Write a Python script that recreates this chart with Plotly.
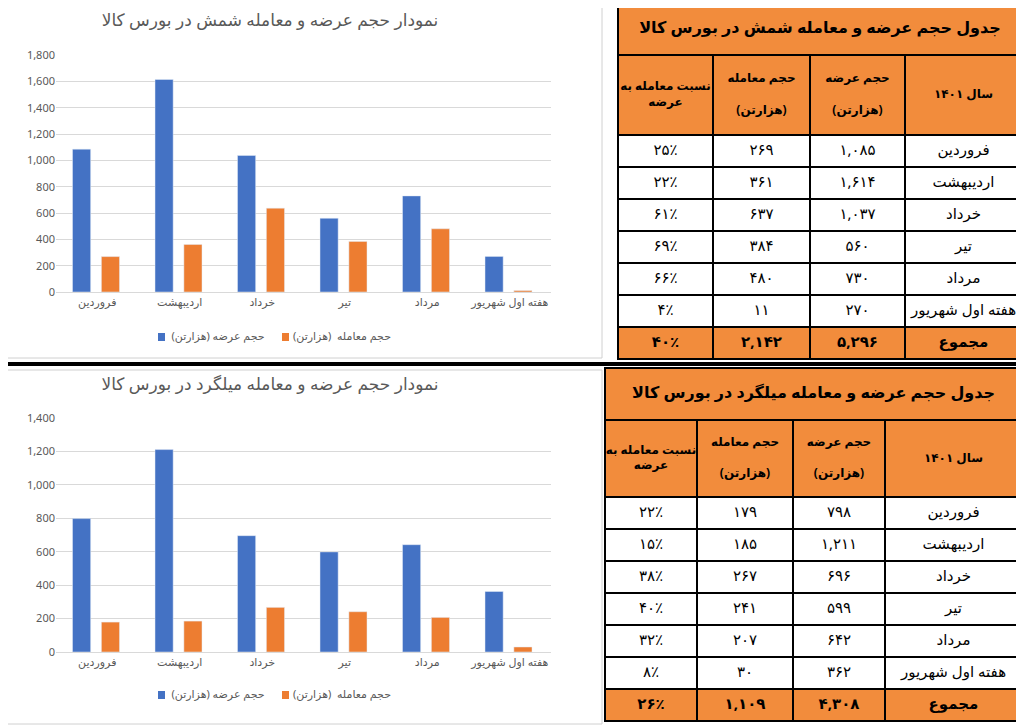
import plotly.graph_objects as go

months = ["فروردین", "اردیبهشت", "خرداد", "تیر", "مرداد", "هفته اول شهریور"]
gold_supply = [1085, 1614, 1037, 560, 730, 270]
gold_trade = [269, 361, 637, 384, 480, 11]
gold_ratio = [25, 22, 61, 69, 66, 4]
gold_total = [5296, 2142, 40]
mil_supply = [798, 1211, 696, 599, 642, 362]
mil_trade = [179, 185, 267, 241, 207, 30]
mil_ratio = [22, 15, 38, 40, 32, 8]
mil_total = [4308, 1109, 26]

OFF = 8
W, H = 1024, 728
FW, FH = W - 2 * OFF + 8, H - OFF
BLUE, ORANGE, TORANGE = "#4472C4", "#ED7D31", "#F28C3C"
def px(x): return (x - OFF) / FW
def py(y): return 1 - (y - OFF) / FH
def fa(n):
    s = f"{n:,}"
    return s.translate(str.maketrans("0123456789", "۰۱۲۳۴۵۶۷۸۹"))

fig = go.Figure()
shapes = []
tx, ty_, tt, ts = [], [], [], []

def txt(x, y, t, size=14, bold=False, color="black"):
    tx.append(x); ty_.append(y); tt.append(f"<b>{t}</b>" if bold else t); ts.append((size, color))

def chart(ax, ys, supply, trade, ymax, title, x0, x1, y_top, y_bot, tyy, ly):
    xa = "x" if ax == 1 else "x2"; ya = "y" if ax == 1 else "y2"
    fig.add_trace(go.Bar(x=months, y=supply, marker_color=BLUE, xaxis=xa, yaxis=ya, showlegend=False, width=0.22, offset=-0.3))
    fig.add_trace(go.Bar(x=months, y=trade, marker_color=ORANGE, xaxis=xa, yaxis=ya, showlegend=False, width=0.22, offset=0.05))
    k = "" if ax == 1 else "2"
    fig.update_layout({f"xaxis{k}": dict(domain=[px(x0), px(x1)], anchor=ya, automargin=False, tickfont=dict(size=11, color="#595959"), showline=True, linecolor="#d9d9d9", fixedrange=True),
                       f"yaxis{k}": dict(domain=[py(y_bot), py(y_top)], anchor=xa, automargin=False, range=[0, ymax], dtick=200, tickformat=",", gridcolor="#d9d9d9", zeroline=False, tickfont=dict(size=11, color="#595959"))})
    txt(270, tyy, title, 17, False, "#595959")
    for lx, c, t in [(218, BLUE, "حجم عرضه (هزارتن)"), (342, ORANGE, "حجم معامله  (هزارتن)")]:
        shapes.append(dict(type="rect", xref="x3", yref="y3", x0=lx-60, x1=lx-53, y0=ly-4, y1=ly+4, fillcolor=c, line_width=0))
        txt(lx, ly, t, 11, False, "#595959")
    shapes.append(dict(type="rect", xref="x3", yref="y3", x0=2, x1=602, y0=ys[0], y1=ys[1], line=dict(color="#d0d0d0", width=1)))

chart(1, (2, 358), gold_supply, gold_trade, 1800, "نمودار حجم عرضه و معامله شمش در بورس کالا", 56, 551, 55, 292, 22, 337)
chart(2, (370, 724), mil_supply, mil_trade, 1400, "نمودار حجم عرضه و معامله میلگرد در بورس کالا", 56, 551, 418, 652, 386, 695)

def table(cols, title_rows, hdr_bot, row_h, title, supply, trade, ratio, total):
    top, tbot = title_rows
    L, R = cols[0], cols[-1]
    def rect(x0, x1, y0, y1, fill):
        shapes.append(dict(type="rect", xref="x3", yref="y3", x0=x0, x1=x1, y0=y0, y1=y1, fillcolor=fill, line=dict(color="black", width=2), layer="below"))
    rect(L, R, top, tbot, TORANGE)
    txt((L+R)/2, (top+tbot)/2, title, 16, True)
    hdr = ["نسبت معامله به<br>عرضه", "حجم معامله<br><br>(هزارتن)", "حجم عرضه<br><br>(هزارتن)", "سال ۱۴۰۱"]
    for i in range(4):
        rect(cols[i], cols[i+1], tbot, hdr_bot, TORANGE)
        txt((cols[i]+cols[i+1])/2, (tbot+hdr_bot)/2, hdr[i], 12, True)
    for r in range(7):
        y0 = hdr_bot + r*row_h; y1 = y0 + row_h
        if r < 6:
            vals = [fa(ratio[r]) + "٪", fa(trade[r]), fa(supply[r]), months[r]]
            fill = "white"
        else:
            vals = [fa(total[2]) + "٪", fa(total[1]), fa(total[0]), "مجموع"]
            fill = TORANGE
        for i in range(4):
            rect(cols[i], cols[i+1], y0, y1, fill)
            txt((cols[i]+cols[i+1])/2, (y0+y1)/2, vals[i], 15, r == 6)

table([618, 713, 810, 905, 1022], (2, 55), 135, 32, "جدول حجم عرضه و معامله شمش در بورس کالا", gold_supply, gold_trade, gold_ratio, gold_total)
table([605, 697, 793, 885, 1022], (368, 420), 497, 32, "جدول حجم عرضه و معامله میلگرد در بورس کالا", mil_supply, mil_trade, mil_ratio, mil_total)
shapes.append(dict(type="line", xref="x3", yref="y3", x0=0, x1=1024, y0=364, y1=364, line=dict(color="black", width=4)))

fig.add_trace(go.Scatter(x=tx, y=ty_, text=tt, mode="text", xaxis="x3", yaxis="y3", showlegend=False, hoverinfo="skip",
                         textfont=dict(size=[s for s, c in ts], color=[c for s, c in ts]), textposition="middle center", cliponaxis=False))

fig.update_layout(width=FW, height=FH, margin=dict(l=0, r=0, t=0, b=0, autoexpand=False), paper_bgcolor="white", plot_bgcolor="rgba(0,0,0,0)",
                  xaxis3=dict(domain=[0, 1], range=[OFF, OFF + FW], visible=False, anchor="y3", automargin=False),
                  yaxis3=dict(domain=[0, 1], range=[OFF + FH, OFF], visible=False, anchor="x3", automargin=False),
                  shapes=shapes, font=dict(family="Noto Sans, DejaVu Sans"), showlegend=False)
fig.write_html("out.html")
